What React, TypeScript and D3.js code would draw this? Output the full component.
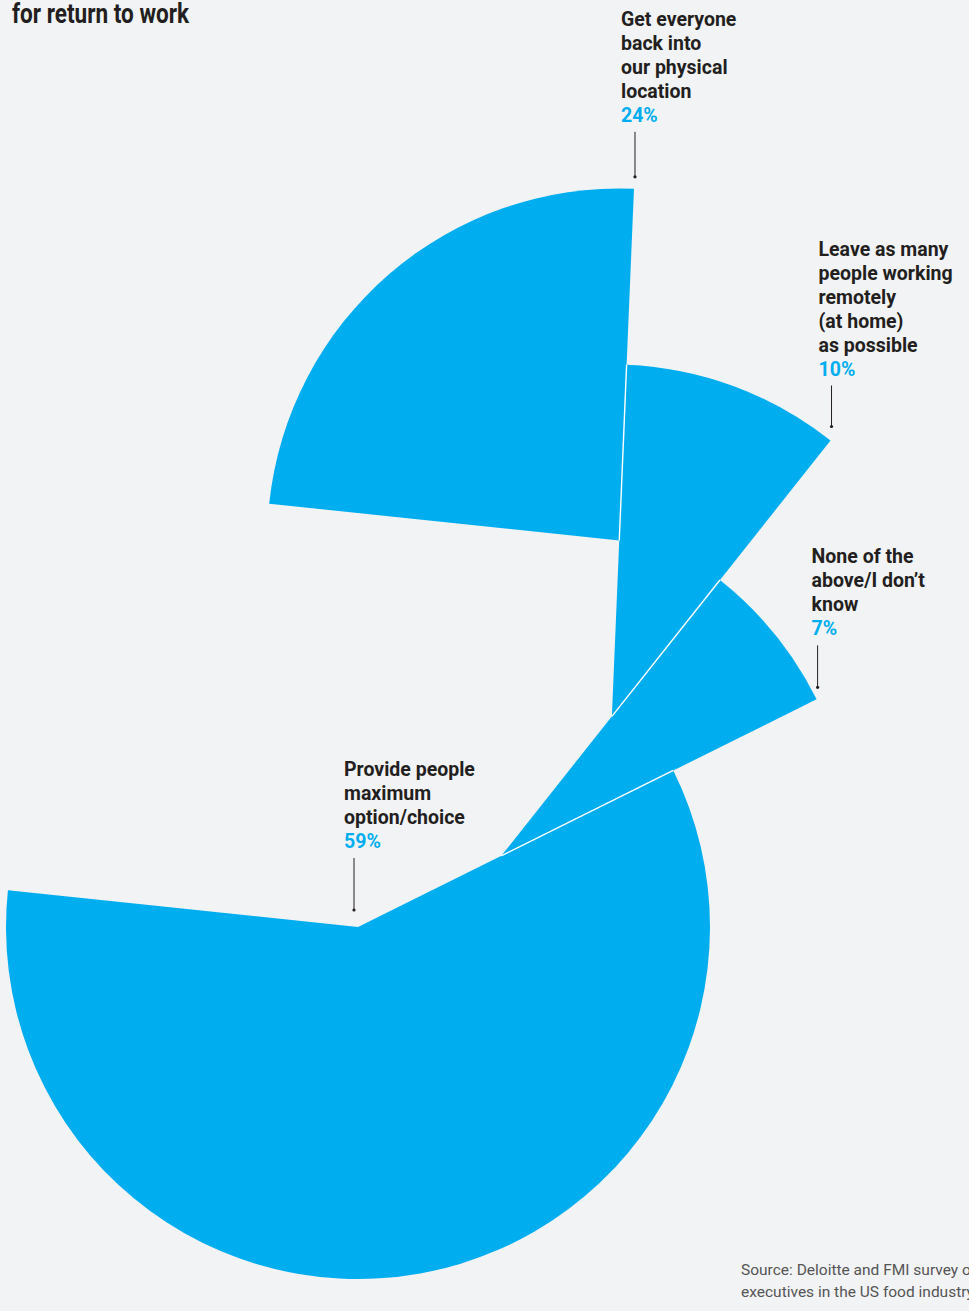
import React, { useRef, useEffect } from 'react';
import * as d3 from 'd3';

// Survey answers, in the order the wedges run clockwise from the top-left
const categories = [
  'Get everyone back into our physical location',
  'Leave as many people working remotely (at home) as possible',
  'None of the above/I don’t know',
  'Provide people maximum option/choice',
];

// How each label breaks over lines
const labelLines = [
  ['Get everyone', 'back into', 'our physical', 'location'],
  ['Leave as many', 'people working', 'remotely', '(at home)', 'as possible'],
  ['None of the', 'above/I don’t', 'know'],
  ['Provide people', 'maximum', 'option/choice'],
];

// Share of respondents, %
const values = [24, 10, 7, 59];

const titleText = 'for return to work';
const sourceLines = ['Source: Deloitte and FMI survey of', 'executives in the US food industry'];

// Layout
const WIDTH = 969;
const HEIGHT = 1311;
const BG = '#f2f3f5';
const BLUE = '#00aeef';
const INK = '#231f20';
const RADIUS = 352;
const ORIGIN: [number, number] = [358, 927]; // apex of the biggest wedge
const START_DEG = -84;
// distance each wedge slides out along the edge it shares with the next one
const SHIFTS = [176, 178, 160];
// leader line + label placement relative to the wedge corner it points at
const LEADERS = [
  { dx: 1, gap: 12, len: 45, textDx: -14 },
  { dx: 1, gap: 14, len: 41, textDx: -13 },
  { dx: 1, gap: 12, len: 42, textDx: -6 },
  { dx: -4, gap: 17, len: 52, textDx: -10 },
];
const LINE_H = 24;
const FONT = 'Roboto, "Noto Sans", sans-serif';

const dir = (a: number): [number, number] => [Math.sin(a), -Math.cos(a)];

const ExplodedPie: React.FC = () => {
  const svgRef = useRef<SVGSVGElement | null>(null);

  useEffect(() => {
    if (!svgRef.current) return;
    const svg = d3.select(svgRef.current);
    svg.selectAll('*').remove();

    svg.append('rect').attr('width', WIDTH).attr('height', HEIGHT).attr('fill', BG);

    const start = (START_DEG * Math.PI) / 180;
    const pie = d3
      .pie<number>()
      .sort(null)
      .value((d) => d)
      .startAngle(start)
      .endAngle(start + 2 * Math.PI);
    const arcs = pie(values);
    const n = arcs.length;

    // chain the apexes: each wedge sits on the edge of the one after it
    const apex: [number, number][] = new Array(n);
    apex[n - 1] = ORIGIN;
    for (let i = n - 2; i >= 0; i--) {
      const [ux, uy] = dir(arcs[i].endAngle);
      apex[i] = [apex[i + 1][0] + SHIFTS[i] * ux, apex[i + 1][1] + SHIFTS[i] * uy];
    }

    const arc = d3.arc<d3.PieArcDatum<number>>().innerRadius(0).outerRadius(RADIUS);

    svg
      .append('g')
      .selectAll('path')
      .data(arcs)
      .enter()
      .append('path')
      .attr('transform', (_d, i) => `translate(${apex[i][0]},${apex[i][1]})`)
      .attr('d', arc)
      .attr('fill', BLUE);

    // thin white seams where two wedges share an edge
    const seams = d3.range(n - 1).map((i) => {
      const [ux, uy] = dir(arcs[i].endAngle);
      return {
        x1: apex[i][0],
        y1: apex[i][1],
        x2: apex[i + 1][0] + RADIUS * ux,
        y2: apex[i + 1][1] + RADIUS * uy,
      };
    });
    svg
      .append('g')
      .selectAll('line')
      .data(seams)
      .enter()
      .append('line')
      .attr('x1', (d) => d.x1)
      .attr('y1', (d) => d.y1)
      .attr('x2', (d) => d.x2)
      .attr('y2', (d) => d.y2)
      .attr('stroke', '#fff')
      .attr('stroke-width', 1.4);

    // labels with leader lines
    const labels = svg.append('g').attr('font-family', FONT).attr('font-weight', 700);
    arcs.forEach((a, i) => {
      let anchor: [number, number];
      if (i < n - 1) {
        const [ux, uy] = dir(a.endAngle);
        anchor = [apex[i][0] + RADIUS * ux, apex[i][1] + RADIUS * uy];
      } else {
        anchor = apex[i];
      }
      const L = LEADERS[i];
      const lx = anchor[0] + L.dx;
      const yBottom = anchor[1] - L.gap;
      const yTop = yBottom - L.len;

      labels
        .append('line')
        .attr('x1', lx)
        .attr('x2', lx)
        .attr('y1', yTop)
        .attr('y2', yBottom)
        .attr('stroke', INK)
        .attr('stroke-width', 1);
      labels.append('circle').attr('cx', lx).attr('cy', yBottom).attr('r', 1.6).attr('fill', INK);

      const tx = lx + L.textDx;
      const pctBase = yTop - 10;
      const lines = labelLines[i];
      const t = labels
        .append('text')
        .attr('x', tx)
        .attr('font-size', 19.5)
        .attr('aria-label', categories[i]);
      lines.forEach((ln, j) => {
        t.append('tspan')
          .attr('x', tx)
          .attr('y', pctBase - LINE_H * (lines.length - j))
          .attr('fill', INK)
          .text(ln);
      });
      t.append('tspan').attr('x', tx).attr('y', pctBase).attr('fill', BLUE).text(`${values[i]}%`);
    });

    // title (second line of the headline, the first is above the frame)
    svg
      .append('text')
      .attr('x', 12)
      .attr('y', 23)
      .attr('font-family', FONT)
      .attr('font-weight', 700)
      .attr('font-size', 28)
      .attr('fill', INK)
      .attr('textLength', 177)
      .attr('lengthAdjust', 'spacingAndGlyphs')
      .text(titleText);

    // source
    svg
      .append('g')
      .selectAll('text')
      .data(sourceLines)
      .enter()
      .append('text')
      .attr('x', 741)
      .attr('y', (_d, i) => 1275 + i * 22)
      .attr('font-family', FONT)
      .attr('font-weight', 400)
      .attr('font-size', 15.5)
      .attr('fill', '#555')
      .text((d) => d);
  }, []);

  return (
    <svg
      ref={svgRef}
      width={WIDTH}
      height={HEIGHT}
      style={{ position: 'absolute', left: 0, top: 0, display: 'block' }}
    />
  );
};

export default function App() {
  return <ExplodedPie />;
}
